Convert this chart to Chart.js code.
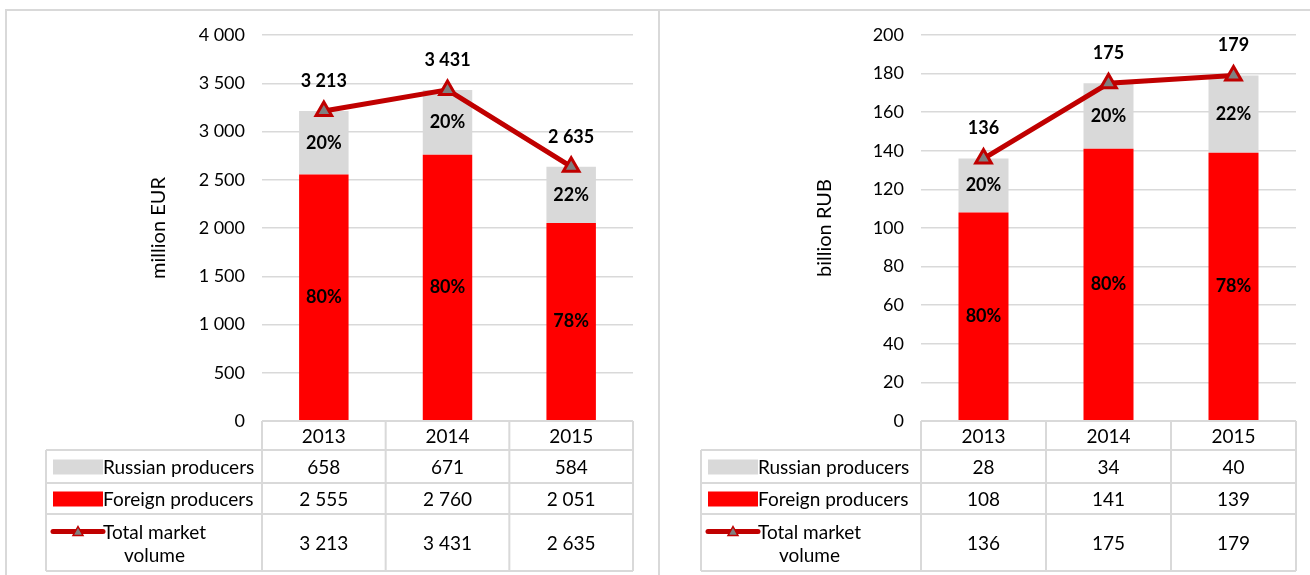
<!DOCTYPE html>
<html>
<head>
<meta charset="utf-8">
<script src="https://cdn.jsdelivr.net/npm/chart.js@4.4.0/dist/chart.umd.min.js"></script>
<style>
body{margin:0;background:#fff;overflow:hidden;}
#frame{position:absolute;left:5px;top:9px;width:1320px;height:600px;border:2px solid #d9d9d9;}
#divider{position:absolute;left:658px;top:9px;width:2px;height:600px;background:#d9d9d9;}
#c1{position:absolute;left:0;top:0;}
#c2{position:absolute;left:659px;top:0;}
</style>
</head>
<body>
<div id="frame"></div>
<div id="divider"></div>
<canvas id="c1" width="659" height="575"></canvas>
<canvas id="c2" width="651" height="575"></canvas>
<script>
// datos
const years = ['2013', '2014', '2015'];
const rusEur = [658, 671, 584];
const forEur = [2555, 2760, 2051];
const totEur = [3213, 3431, 2635];
const rusEurPct = ['20%', '20%', '22%'];
const forEurPct = ['80%', '80%', '78%'];

const rusRub = [28, 34, 40];
const forRub = [108, 141, 139];
const totRub = [136, 175, 179];
const rusRubPct = ['20%', '20%', '22%'];
const forRubPct = ['80%', '80%', '78%'];

const rowNames = ['Russian producers', 'Foreign producers', 'Total market volume'];

const RED = '#ff0000';
const GREY = '#d9d9d9';
const DARKRED = '#c00000';
const FONT = 'Lato';

Chart.defaults.font.family = FONT;
Chart.defaults.color = '#000';

// separador de miles con espacio
function fmt(v) {
    return String(v).replace(/\B(?=(\d{3})+(?!\d))/g, ' ');
}

// etiquetas + tabla de datos debajo del grafico
const tablePlugin = {
    id: 'tablePlugin',
    afterDatasetsDraw(chart, args, o) {
        const ctx = chart.ctx;
        const area = chart.chartArea;
        ctx.save();
        ctx.fillStyle = '#000';
        ctx.textAlign = 'center';
        ctx.textBaseline = 'middle';
        ctx.font = 'bold 18px ' + FONT;

        // porcentajes dentro de las barras
        [0, 1].forEach(di => {
            chart.getDatasetMeta(di).data.forEach((bar, i) => {
                const p = bar.getProps(['x', 'y', 'base'], true);
                ctx.fillText(o.pct[di][i], p.x, (p.y + p.base) / 2);
            });
        });
        // valores totales encima de la linea
        chart.getDatasetMeta(2).data.forEach((pt, i) => {
            ctx.fillText(fmt(o.total[i]), pt.x, pt.y - 30);
        });

        // tabla
        const n = years.length;
        const colW = (area.right - area.left) / n;
        const rowH = [29, 33, 31, 57];
        const ys = [area.bottom];
        rowH.forEach(h => ys.push(ys[ys.length - 1] + h));
        const L = o.tableLeft;

        ctx.strokeStyle = GREY;
        ctx.lineWidth = 2;
        ctx.beginPath();
        ctx.moveTo(area.left, ys[0]); ctx.lineTo(area.right, ys[0]);
        for (let r = 1; r < ys.length; r++) {
            ctx.moveTo(L, ys[r]); ctx.lineTo(area.right, ys[r]);
        }
        ctx.moveTo(L, ys[1]); ctx.lineTo(L, ys[ys.length - 1]);
        for (let k = 0; k <= n; k++) {
            const xx = area.left + k * colW;
            ctx.moveTo(xx, ys[0]); ctx.lineTo(xx, ys[ys.length - 1]);
        }
        ctx.stroke();

        ctx.font = '19px ' + FONT;
        const rows = [o.rus, o.fore, o.total];
        for (let k = 0; k < n; k++) {
            const cx = area.left + (k + 0.5) * colW;
            ctx.fillText(years[k], cx, (ys[0] + ys[1]) / 2 + 1);
            rows.forEach((vals, r) => {
                ctx.fillText(fmt(vals[k]), cx, (ys[r + 1] + ys[r + 2]) / 2 + 1);
            });
        }

        // leyenda en la tabla
        const mx0 = L + 7, mx1 = L + 57;
        let cy = (ys[1] + ys[2]) / 2;
        ctx.fillStyle = GREY;
        ctx.fillRect(mx0, cy - 7, mx1 - mx0, 15);
        ctx.fillStyle = '#000';
        ctx.textAlign = 'left';
        ctx.fillText(rowNames[0], mx1, cy + 1);

        cy = (ys[2] + ys[3]) / 2;
        ctx.fillStyle = RED;
        ctx.fillRect(mx0, cy - 7, mx1 - mx0, 15);
        ctx.fillStyle = '#000';
        ctx.fillText(rowNames[1], mx1, cy + 1);

        cy = (ys[3] + ys[4]) / 2;
        const ly = cy - 11;
        ctx.strokeStyle = DARKRED;
        ctx.lineWidth = 5;
        ctx.lineCap = 'round';
        ctx.beginPath();
        ctx.moveTo(mx0, ly); ctx.lineTo(mx1, ly);
        ctx.stroke();
        const tx = (mx0 + mx1) / 2;
        ctx.beginPath();
        ctx.moveTo(tx, ly - 5); ctx.lineTo(tx + 5, ly + 4); ctx.lineTo(tx - 5, ly + 4); ctx.closePath();
        ctx.fillStyle = '#808080';
        ctx.fill();
        ctx.lineWidth = 1.5;
        ctx.stroke();

        ctx.fillStyle = '#000';
        ctx.textAlign = 'center';
        const w1 = ctx.measureText('Total market').width;
        ctx.fillText('Total market', mx1 + w1 / 2, ly + 1);
        ctx.fillText('volume', mx1 + w1 / 2, ly + 24);
        ctx.restore();
    }
};

function makeChart(id, cfg) {
    return new Chart(document.getElementById(id), {
        type: 'bar',
        data: {
            labels: years,
            datasets: [
                { label: 'Foreign producers', data: cfg.fore, backgroundColor: RED, order: 1,
                  categoryPercentage: 0.4, barPercentage: 1 },
                { label: 'Russian producers', data: cfg.rus, backgroundColor: GREY, order: 1,
                  categoryPercentage: 0.4, barPercentage: 1 },
                { type: 'line', label: 'Total market volume', data: cfg.total, stack: 'total', order: 0,
                  borderColor: DARKRED, borderWidth: 5, pointStyle: 'triangle', pointRadius: 9,
                  pointBackgroundColor: '#808080', pointBorderColor: DARKRED, pointBorderWidth: 3 }
            ]
        },
        options: {
            responsive: false,
            animation: false,
            layout: { padding: { left: cfg.padLeft, right: cfg.padRight, top: 35, bottom: 154 } },
            plugins: {
                legend: { display: false },
                tooltip: { enabled: false },
                tablePlugin: { pct: [cfg.forePct, cfg.rusPct], total: cfg.total, rus: cfg.rus, fore: cfg.fore, tableLeft: cfg.tableLeft }
            },
            scales: {
                x: { stacked: true, display: false },
                y: {
                    stacked: true,
                    min: 0, max: cfg.max,
                    ticks: { stepSize: cfg.step, padding: 17, font: { size: 18 }, callback: v => fmt(v) },
                    grid: { color: GREY, lineWidth: 1.5, drawTicks: false },
                    border: { display: false },
                    title: { display: true, text: cfg.title, font: { size: 20 } },
                    afterFit(scale) { scale.width = cfg.axisWidth; }
                }
            }
        },
        plugins: [tablePlugin]
    });
}

makeChart('c1', {
    rus: rusEur, fore: forEur, total: totEur, rusPct: rusEurPct, forePct: forEurPct,
    max: 4000, step: 500, title: 'million EUR',
    padLeft: 143, axisWidth: 119, padRight: 26, tableLeft: 46
});

makeChart('c2', {
    rus: rusRub, fore: forRub, total: totRub, rusPct: rusRubPct, forePct: forRubPct,
    max: 200, step: 20, title: 'billion RUB',
    padLeft: 150, axisWidth: 112, padRight: 14, tableLeft: 42
});
</script>
</body>
</html>
